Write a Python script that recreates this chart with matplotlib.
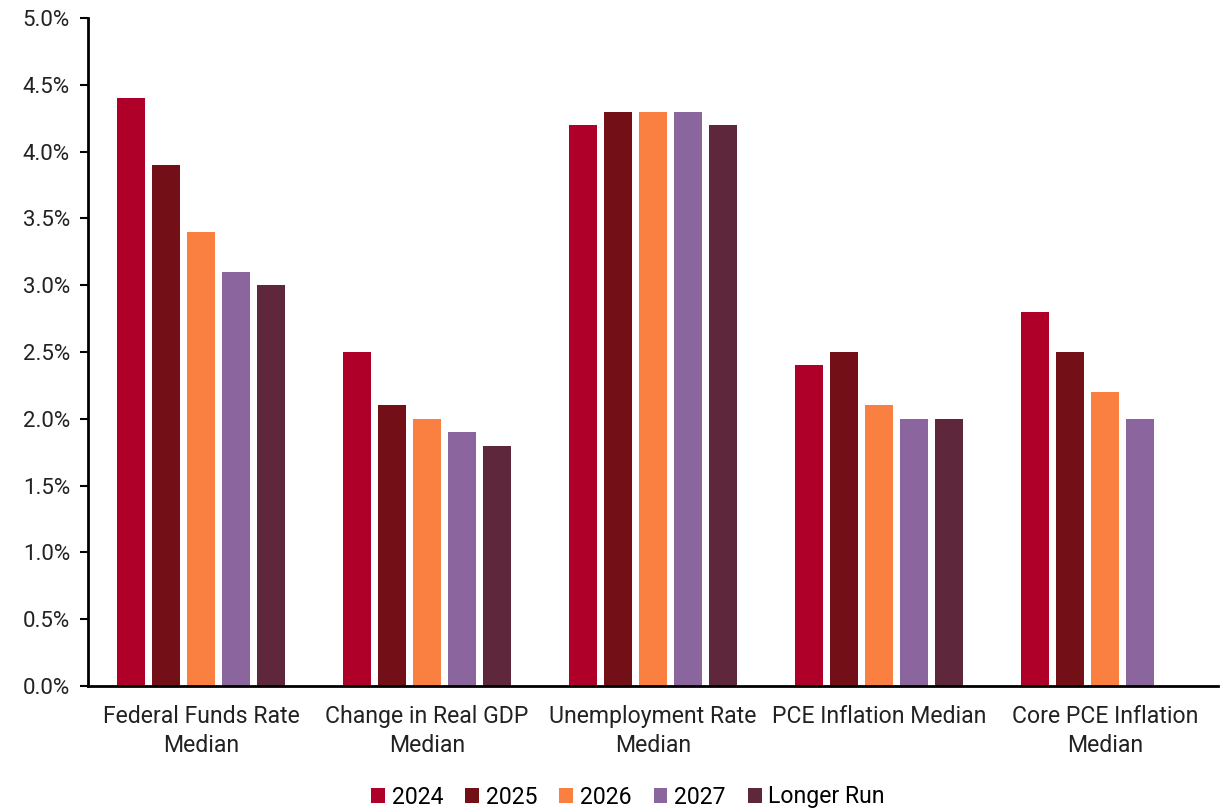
import numpy as np
import matplotlib
matplotlib.use("Agg")
import matplotlib.pyplot as plt
from matplotlib.ticker import FuncFormatter, MultipleLocator

plt.rcParams['font.family'] = ['Roboto', 'DejaVu Sans']

categories = ["Federal Funds Rate\nMedian", "Change in Real GDP\nMedian",
              "Unemployment Rate\nMedian", "PCE Inflation Median",
              "Core PCE Inflation\nMedian"]
series_names = ["2024", "2025", "2026", "2027", "Longer Run"]
values = {
    "2024":       [4.4, 2.5, 4.2, 2.4, 2.8],
    "2025":       [3.9, 2.1, 4.3, 2.5, 2.5],
    "2026":       [3.4, 2.0, 4.3, 2.1, 2.2],
    "2027":       [3.1, 1.9, 4.3, 2.0, 2.0],
    "Longer Run": [3.0, 1.8, 4.2, 2.0, np.nan],
}
colors = ["#AE0029", "#731017", "#FA8041", "#8B659E", "#5E273C"]

fig = plt.figure(figsize=(12.22, 8.10), dpi=100)
ax = fig.add_axes([88 / 1222, 1 - 686 / 810, (1218 - 88) / 1222, (686 - 18) / 810])

x = np.arange(len(categories))
step = 0.155
width = 0.124
for i, (name, col) in enumerate(zip(series_names, colors)):
    offs = (i - 2) * step
    ax.bar(x + offs, values[name], width=width, color=col, label=name)

ax.set_xlim(-0.5, len(categories) - 0.5)
ax.set_ylim(0, 5.0)
ax.yaxis.set_major_locator(MultipleLocator(0.5))
ax.yaxis.set_major_formatter(FuncFormatter(lambda v, p: f"{v:.1f}%"))
ax.set_xticks(x)
ax.set_xticklabels(categories, fontsize=16.6, color="#222222", linespacing=1.3)
ax.tick_params(axis="x", length=0, pad=14)
ax.tick_params(axis="y", length=6, width=1.5, labelsize=16, labelcolor="#222222", pad=7)

for s in ["top", "right"]:
    ax.spines[s].set_visible(False)
for s in ["left", "bottom"]:
    ax.spines[s].set_linewidth(2)
    ax.spines[s].set_color("black")

ax.legend(loc="center", bbox_to_anchor=(628 / 1222, 1 - 797 / 810),
          bbox_transform=fig.transFigure, ncol=5, frameon=False,
          fontsize=16.6, handlelength=0.6, handleheight=0.6, handletextpad=0.3,
          columnspacing=0.95, borderaxespad=0, borderpad=0)

fig.savefig("out.png", dpi=100)
